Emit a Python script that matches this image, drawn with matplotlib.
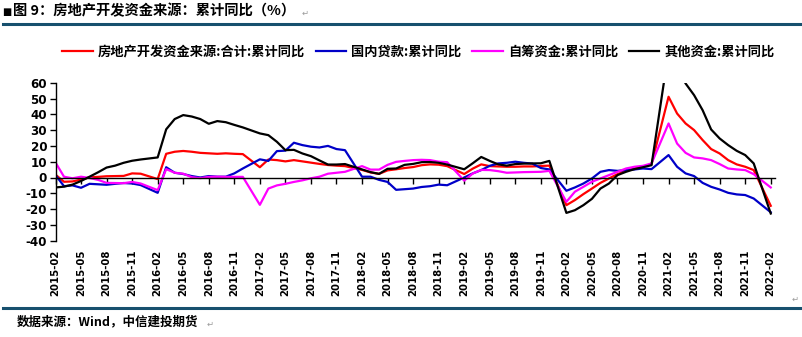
import matplotlib
matplotlib.use("Agg")
import matplotlib.pyplot as plt
from matplotlib.lines import Line2D
from matplotlib.font_manager import FontProperties

plt.rcParams['font.family'] = ['Noto Sans CJK SC', 'DejaVu Sans']

# ---------------- data ----------------
dates = [f"{y}-{m:02d}" for y in range(2015, 2022) for m in range(2, 13)] + ["2022-02"]

total = [1.8, -2.7, -2.5, -1.3, 0.1, 0.4, 0.8, 0.9, 1.0, 2.6, 2.4,
         -1.0, 15.0, 16.3, 16.8, 16.3, 15.6, 15.3, 15.0, 15.3, 15.0, 14.8,
         6.5, 11.4, 11.0, 10.2, 11.0, 10.2, 9.4, 8.6, 7.9, 7.5, 7.2,
         4.8, 3.2, 2.3, 4.5, 5.2, 6.0, 6.6, 7.8, 8.3, 8.1, 7.2,
         2.2, 5.6, 8.3, 7.2, 7.0, 6.8, 6.8, 7.0, 7.0, 7.3, 7.5,
         -17.5, -14.3, -10.5, -7.0, -3.4, -0.6, 2.1, 4.3, 5.7, 6.8, 8.5,
         51.1, 40.5, 34.2, 30.0, 23.7, 18.0, 15.2, 11.0, 8.3, 6.8, 4.7,
         -17.9]

domestic_loans = [1.5, -5.5, -5.0, -6.5, -4.0, -4.3, -4.6, -4.0, -3.5, -3.8, -4.8,
                  -9.7, 6.5, 3.0, 2.2, 0.9, 0.0, 0.9, 0.5, 0.5, 2.6, 5.7,
                  11.5, 10.5, 16.7, 17.0, 22.0, 20.5, 19.5, 19.0, 20.0, 18.0, 17.3,
                  0.5, 0.5, -1.5, -2.8, -7.8, -7.4, -7.0, -6.0, -5.5, -4.5, -4.9,
                  0.0, 2.6, 4.7, 7.4, 8.9, 9.3, 10.0, 9.3, 8.8, 6.0, 5.1,
                  -8.4, -6.3, -3.8, -0.6, 3.6, 4.7, 4.2, 4.7, 5.1, 5.7, 5.3,
                  14.2, 6.8, 2.6, 0.9, -3.4, -5.9, -7.6, -9.7, -10.7, -11.1, -13.3,
                  -22.0]

self_raised = [9.5, 0.5, -0.5, 0.5, -0.3, -1.5, -3.4, -3.5, -3.6, -2.8, -3.8,
               -8.0, 5.3, 3.0, 2.4, 0.2, -0.4, 0.4, 0.5, 0.4, 0.4, 0.4,
               -17.3, -7.0, -5.0, -4.0, -2.8, -1.8, -0.5, 0.5, 2.4, 3.0, 3.6,
               7.2, 5.0, 5.0, 8.0, 9.9, 10.5, 11.0, 11.2, 11.0, 10.0, 9.7,
               -2.0, 2.5, 4.8, 4.7, 4.0, 3.0, 3.2, 3.4, 3.5, 3.6, 4.2,
               -15.4, -9.0, -5.9, -2.7, -0.6, 1.5, 3.6, 5.7, 6.8, 7.4, 8.9,
               34.2, 21.5, 15.6, 12.7, 12.1, 11.0, 8.5, 5.7, 5.1, 4.7, 2.1,
               -6.3]

other_funds = [-6.3, -5.8, -4.5, -2.2, 0.5, 3.3, 6.3, 7.5, 9.3, 10.6, 11.4,
               12.7, 30.5, 37.0, 39.5, 38.6, 37.0, 34.0, 35.7, 35.0, 33.3, 31.7,
               27.9, 26.8, 22.6, 17.3, 17.5, 15.2, 13.5, 10.8, 8.2, 8.2, 8.5,
               5.1, 3.4, 2.3, 5.5, 5.7, 8.0, 8.6, 9.7, 9.8, 9.3, 8.2,
               5.2, 9.0, 13.0, 10.5, 8.3, 7.5, 8.5, 8.8, 8.9, 9.0, 10.5,
               -22.4, -20.7, -17.5, -13.5, -7.0, -3.8, 1.5, 3.6, 5.3, 6.5, 7.8,
               80.0, 70.0, 59.5, 52.1, 42.6, 30.4, 24.7, 20.5, 16.9, 14.2, 8.9,
               -22.8]

series_names = ["房地产开发资金来源:合计:累计同比", "国内贷款:累计同比",
                "自筹资金:累计同比", "其他资金:累计同比"]
series_colors = ["#FF0000", "#0000C8", "#FF00FF", "#000000"]

tick_labels = ["2015-02", "2015-05", "2015-08", "2015-11", "2016-02", "2016-05",
               "2016-08", "2016-11", "2017-02", "2017-05", "2017-08", "2017-11",
               "2018-02", "2018-05", "2018-08", "2018-11", "2019-02", "2019-05",
               "2019-08", "2019-11", "2020-02", "2020-05", "2020-08", "2020-11",
               "2021-02", "2021-05", "2021-08", "2021-11", "2022-02"]
y_ticks = [-40, -30, -20, -10, 0, 10, 20, 30, 40, 50, 60]


def month_pos(d):
    return (int(d[:4]) - 2015) * 12 + int(d[5:7]) - 2


x = [month_pos(d) for d in dates]
tick_pos = [month_pos(d) for d in tick_labels]

# ---------------- figure ----------------
W, H = 802, 337
fig = plt.figure(figsize=(W / 100, H / 100), dpi=100)
fig.patch.set_facecolor("white")

ax_l, ax_r, ax_t, ax_b = 55.5, 775, 82.7, 240.7
ax = fig.add_axes([ax_l / W, (H - ax_b) / H, (ax_r - ax_l) / W, (ax_b - ax_t) / H])

handles = []
for vals, name, col in zip([total, domestic_loans, self_raised, other_funds],
                           series_names, series_colors):
    h, = ax.plot(x, vals, color=col, lw=1.6, label=name)
    handles.append(h)

ax.set_xlim(0, 84.5)
ax.set_ylim(-40, 60)

for s in ["top", "right"]:
    ax.spines[s].set_visible(False)
ax.spines["bottom"].set_position(("data", 0))
ax.spines["bottom"].set_linewidth(1.0)
ax.spines["left"].set_linewidth(1.0)

ax.set_xticks(tick_pos)
ax.tick_params(axis="x", direction="out", length=4, width=1, labelbottom=False)
ax.set_yticks(y_ticks)
ax.set_yticklabels([str(v) for v in y_ticks], fontsize=8.6, fontweight="bold",
                   family="DejaVu Sans")
ax.tick_params(axis="y", direction="out", length=4, width=1, pad=2)

sec = ax.secondary_xaxis(0.0)
sec.set_xticks(tick_pos, labels=tick_labels)
for lbl in sec.get_xticklabels():
    lbl.set_rotation(90)
    lbl.set_fontsize(7.3)
    lbl.set_fontweight("bold")
    lbl.set_family("DejaVu Sans")
sec.tick_params(length=0, pad=6.5)
for s in sec.spines.values():
    s.set_visible(False)

leg = ax.legend(handles=handles, loc="center",
                bbox_to_anchor=(418.5 / W, 1 - 52 / H), bbox_transform=fig.transFigure,
                ncol=4, frameon=False,
                prop=FontProperties(family=["Noto Sans CJK SC", "DejaVu Sans"],
                                    weight="bold", size=9.5),
                handlelength=2.3, handletextpad=0.4, columnspacing=0.8,
                borderpad=0, borderaxespad=0)

# ---------------- title / source ----------------
rule_col = "#17506E"
fig.text(2 / W, 1 - 12 / H, "■", fontsize=7, family="DejaVu Sans", va="center")
fig.text(13 / W, 1 - 11.5 / H, "图 9：房地产开发资金来源：累计同比（%）",
         fontsize=10.3, fontweight="bold", va="center")
fig.text(302 / W, 1 - 13 / H, "↵", fontsize=6, color="#9a9a9a", va="center",
         family="DejaVu Sans")
fig.add_artist(Line2D([3 / W, 1], [1 - 24 / H] * 2, color=rule_col, lw=2.2))

fig.text(792 / W, 1 - 299 / H, "↵", fontsize=6, color="#9a9a9a", va="center",
         family="DejaVu Sans")
fig.add_artist(Line2D([3 / W, 1], [1 - 308 / H] * 2, color=rule_col, lw=2.2))
fig.text(17 / W, 1 - 322 / H, "数据来源：Wind，中信建投期货", fontsize=9,
         fontweight="bold", style="italic", va="center")
fig.text(207 / W, 1 - 324 / H, "↵", fontsize=6, color="#9a9a9a", va="center",
         family="DejaVu Sans")

fig.savefig("out.png", dpi=100)
